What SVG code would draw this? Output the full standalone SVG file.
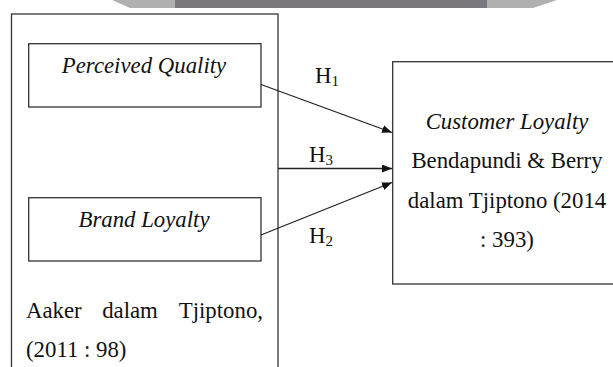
<svg xmlns="http://www.w3.org/2000/svg" width="613" height="367" viewBox="0 0 613 367">
<defs>
<style>
.box{fill:#fff;stroke:#333;stroke-width:1.3}
.t{font-family:'Liberation Serif', 'DejaVu Serif', serif;font-size:22.8px;fill:#111}
.i{font-style:italic}
.c{text-anchor:middle}
.sub{font-size:15px}
.ln{stroke:#222;stroke-width:1.3;fill:none}
</style>
<marker id="ah" viewBox="0 0 10 8" refX="10" refY="4" markerWidth="10" markerHeight="8" markerUnits="userSpaceOnUse" orient="auto">
<path d="M0,0 L10,4 L0,8 Z" fill="#111"/>
</marker>
</defs>
<rect width="613" height="367" fill="#fff"/>
<g id="header-strip">
<polygon points="112,0 557,0 533,8 130,8" fill="#b0b0b0"/>
<rect x="175" y="0" width="312" height="8" fill="#7a787d"/>
</g>
<g id="outer-group">
<rect class="box" x="11.5" y="14" width="266.5" height="370"/>
<text class="t" x="26" y="318">Aaker</text>
<text class="t c" x="130" y="318">dalam</text>
<text class="t" x="263" y="318" text-anchor="end">Tjiptono,</text>
<text class="t" x="26" y="357">(2011 : 98)</text>
</g>
<g id="perceived-quality">
<rect class="box" x="28.7" y="43.7" width="232.3" height="63.3"/>
<text class="t i c" x="144" y="73">Perceived Quality</text>
</g>
<g id="brand-loyalty">
<rect class="box" x="28.7" y="197.7" width="232.3" height="63.3"/>
<text class="t i c" x="144" y="227">Brand Loyalty</text>
</g>
<g id="customer-loyalty">
<rect class="box" x="392.7" y="61.7" width="240" height="222.3"/>
<text class="t i c" x="507" y="129">Customer Loyalty</text>
<text class="t c" x="507" y="168">Bendapundi &amp; Berry</text>
<text class="t c" x="507" y="208">dalam Tjiptono (2014</text>
<text class="t c" x="507" y="247">: 393)</text>
</g>
<g id="connectors">
<line class="ln" x1="261" y1="84.5" x2="392" y2="132.5" marker-end="url(#ah)"/>
<line class="ln" x1="278" y1="168.5" x2="392" y2="168.5" marker-end="url(#ah)"/>
<line class="ln" x1="261" y1="235" x2="392" y2="182.5" marker-end="url(#ah)"/>
<text class="t" x="315" y="83">H<tspan class="sub" dy="3">1</tspan></text>
<text class="t" x="309" y="162">H<tspan class="sub" dy="3">3</tspan></text>
<text class="t" x="309" y="243">H<tspan class="sub" dy="3">2</tspan></text>
</g>
</svg>
